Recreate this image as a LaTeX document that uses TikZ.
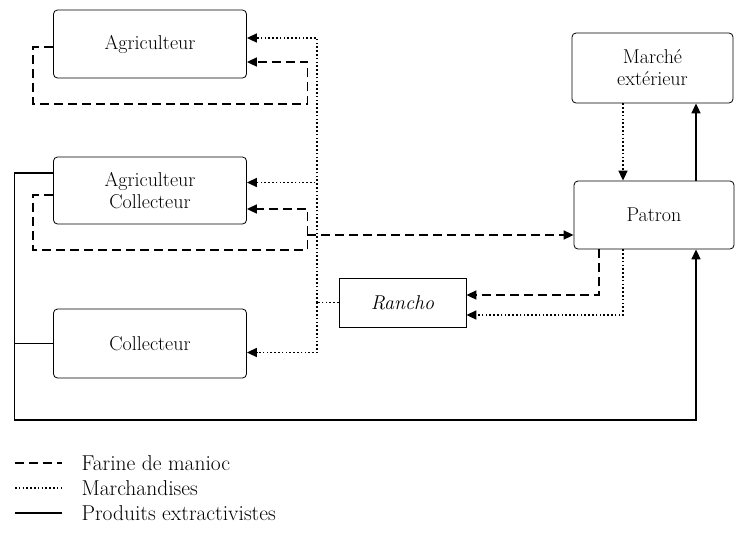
\documentclass[tikz,border=0pt]{standalone}
\usepackage{tikz}
\usetikzlibrary{arrows.meta}

\begin{document}
\begin{tikzpicture}[x=1pt, y=-1pt,
  acteur/.style={draw, thick, rounded corners=4pt, align=center, font=\fontsize{20}{22}\selectfont},
  farine/.style={line width=1.6pt, dash pattern=on 9pt off 5pt},
  marchand/.style={line width=1.6pt, dash pattern=on 1.6pt off 2.2pt},
  produit/.style={line width=1.6pt},
  fleche/.style={-{Triangle[length=10pt,width=9pt]}},
  legende/.style={anchor=west, font=\fontsize{21.5}{24}\selectfont}]
 \useasboundingbox (0,0) rectangle (739,539);

 \node[acteur, minimum width=193pt, minimum height=68pt] (agri) at (150,44) {Agriculteur};
 \node[acteur, minimum width=193pt, minimum height=67pt] (ac) at (150,190.5) {Agriculteur\\Collecteur};
 \node[acteur, minimum width=193pt, minimum height=69pt] (coll) at (150,343.5) {Collecteur};
 \node[acteur, minimum width=161pt, minimum height=70pt] (marche) at (652.5,68) {March\'e\\ext\'erieur};
 \node[acteur, minimum width=160pt, minimum height=68pt] (patron) at (654,215) {Patron};
 \node[draw, thick, minimum width=127pt, minimum height=49pt, font=\fontsize{20}{22}\selectfont\itshape] (rancho) at (402.5,302.5) {Rancho};

 % marchandises
 \coordinate (mjoin) at (317,302.5);
 \draw[marchand] (rancho.west) -- (mjoin);
 \draw[marchand, fleche] (mjoin) |- ([yshift=6pt]agri.east);
 \draw[marchand, fleche] (mjoin) |- ([yshift=8pt]ac.east);
 \draw[marchand, fleche] (mjoin) |- ([yshift=-9pt]coll.east);
 \draw[marchand, fleche] ([xshift=-29.5pt]marche.south) -- ([xshift=-31pt]patron.north);
 \draw[marchand, fleche] ([xshift=-31pt]patron.south) |- ([yshift=-12.5pt]rancho.east);

 % farine de manioc
 \draw[farine, fleche] ([yshift=-3pt]agri.west) -| ++(-20,57) -| ([xshift=60.5pt,yshift=-18pt]agri.east) -- ([yshift=-18pt]agri.east);
 \draw[farine, fleche] ([yshift=-4.5pt]ac.west) -| ++(-20,55) -| ([xshift=60.5pt,yshift=-18.5pt]ac.east) -- ([yshift=-18.5pt]ac.east);
 \coordinate (fjoin) at (307,235);
 \draw[farine, fleche] (fjoin) -- ([yshift=-20pt]patron.west);
 \draw[farine, fleche] ([xshift=-55pt]patron.south) |- ([yshift=7.5pt]rancho.east);

 % produits extractivistes
 \draw[produit, fleche] ([yshift=17.5pt]ac.west) -| ++(-38.5,247) -| ([xshift=42pt]patron.south);
 \draw[produit] (coll.west) -- ++(-38.5,0);
 \draw[produit, fleche] ([xshift=42pt]patron.north) -- ([xshift=43.5pt]marche.south);

 % legende
 \node[legende] (lfar) at (78,463) {Farine de manioc};
 \node[legende] (lmar) at (78,488) {Marchandises};
 \node[legende] (lpro) at (78,513) {Produits extractivistes};
 \draw[farine] ([xshift=-63pt]lfar.west) -- ([xshift=-16pt]lfar.west);
 \draw[marchand] ([xshift=-63pt]lmar.west) -- ([xshift=-16pt]lmar.west);
 \draw[produit] ([xshift=-63pt]lpro.west) -- ([xshift=-16pt]lpro.west);
\end{tikzpicture}
\end{document}
